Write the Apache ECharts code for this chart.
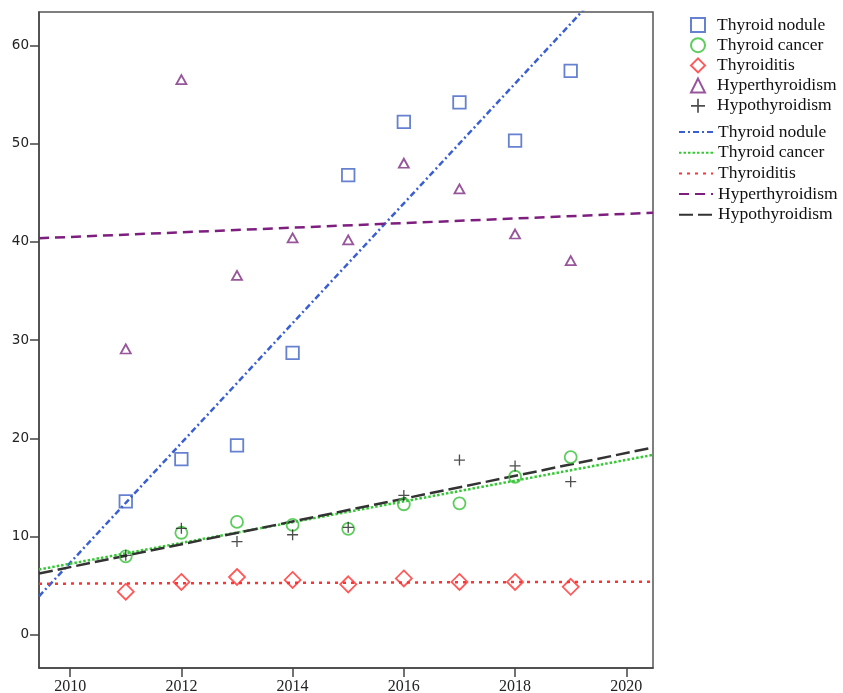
<!DOCTYPE html>
<html>
<head>
<meta charset="utf-8">
<script src="https://cdn.jsdelivr.net/npm/echarts@6/dist/echarts.min.js"></script>
<style>html,body{margin:0;padding:0;background:#fff}#c{width:843px;height:693px}</style>
</head>
<body>
<div id="c"></div>
<script>
var years = [2011, 2012, 2013, 2014, 2015, 2016, 2017, 2018, 2019];
var thyroidNodule = [13.6, 17.9, 19.3, 28.7, 46.8, 52.2, 54.2, 50.3, 57.4];
var thyroidCancer = [8.0, 10.4, 11.5, 11.2, 10.8, 13.3, 13.4, 16.1, 18.1];
var thyroiditis = [4.4, 5.4, 5.9, 5.6, 5.15, 5.75, 5.4, 5.4, 4.9];
var hyperthyroidism = [29.1, 56.5, 36.6, 40.4, 40.2, 48.0, 45.4, 40.8, 38.1];
var hypothyroidism = [8.1, 10.85, 9.5, 10.2, 10.95, 14.2, 17.8, 17.2, 15.6];
var xTicks = [2010, 2012, 2014, 2016, 2018, 2020];
var yTicks = [0, 10, 20, 30, 40, 50, 60];
var xRange = [2009.44, 2020.48];
var yRange = [-3.36, 63.39];

var names = ['Thyroid nodule', 'Thyroid cancer', 'Thyroiditis', 'Hyperthyroidism', 'Hypothyroidism'];
var values = [thyroidNodule, thyroidCancer, thyroiditis, hyperthyroidism, hypothyroidism];
var colors = ['#3f62c4', '#35c035', '#ff3030', '#7d2a82', '#222222'];
var lineColors = ['#3a5fd0', '#33c933', '#ff3333', '#7e1f80', '#333333'];
var symbols = ['rect', 'circle', 'diamond', 'triangle',
  'path://M4.4,0h1.2v4.4h4.4v1.2h-4.4v4.4h-1.2v-4.4h-4.4v-1.2h4.4z'];
var symbolSizes = [12.5, 12, 16, [10, 9], 11];
var dashes = [[6, 3, 2, 3], [2.5, 2], [3, 5], [10, 6], [14, 5]];

function fit(ys) {
  var n = years.length, mx = 0, my = 0;
  for (var i = 0; i < n; i++) { mx += years[i]; my += ys[i]; }
  mx /= n; my /= n;
  var sxy = 0, sxx = 0;
  for (var j = 0; j < n; j++) { sxy += (years[j] - mx) * (ys[j] - my); sxx += (years[j] - mx) * (years[j] - mx); }
  var b = sxy / sxx, a = my - b * mx;
  return [[xRange[0], a + b * xRange[0]], [xRange[1], a + b * xRange[1]]];
}

var series = [];
names.forEach(function (nm, k) {
  var isPlus = k === 4;
  series.push({
    name: nm, type: 'scatter',
    data: years.map(function (y, i) { return [y, values[k][i]]; }),
    symbol: symbols[k], symbolSize: symbolSizes[k],
    itemStyle: isPlus ? { color: colors[k], borderWidth: 0 } :
      { color: 'rgba(255,255,255,0)', borderColor: colors[k], borderWidth: 1.8 },
    z: 3
  });
});
names.forEach(function (nm, k) {
  series.push({
    name: 'fit:' + nm, type: 'line', data: fit(values[k]),
    symbol: 'none', clip: true,
    lineStyle: { color: lineColors[k], width: 2.5, type: dashes[k] },
    itemStyle: { color: lineColors[k] },
    z: 2
  });
});

var legendText = { fontFamily: 'Liberation Serif', fontSize: 17.5, lineHeight: 20, color: '#111' };

var chart = echarts.init(document.getElementById('c'));
chart.setOption({
  animation: false,
  backgroundColor: '#fff',
  grid: { left: 39, right: 190, top: 12, bottom: 25, show: true, borderColor: '#555', borderWidth: 1.5,
    containLabel: false, outerBoundsMode: 'none' },
  xAxis: {
    type: 'value', min: xRange[0], max: xRange[1],
    axisLine: { show: true, onZero: false, lineStyle: { color: '#444', width: 1.5 } },
    axisTick: { show: true, length: 9, customValues: xTicks, lineStyle: { color: '#444', width: 1.5 } },
    axisLabel: { customValues: xTicks, color: '#222', fontFamily: 'Liberation Serif', fontSize: 16, margin: 11,
      formatter: function (v) { return String(Math.round(v)); } },
    splitLine: { show: false }
  },
  yAxis: {
    type: 'value', min: yRange[0], max: yRange[1],
    axisLine: { show: true, onZero: false, lineStyle: { color: '#444', width: 1.5 } },
    axisTick: { show: true, length: 9, customValues: yTicks, lineStyle: { color: '#444', width: 1.5 } },
    axisLabel: { customValues: yTicks, color: '#222', fontFamily: 'DejaVu Sans', fontSize: 13.5, margin: 10,
      formatter: function (v) { return String(Math.round(v)); } },
    splitLine: { show: false }
  },
  legend: [{
    data: names,
    orient: 'vertical', left: 690, top: 15, padding: 0,
    itemWidth: 14, itemHeight: 14, itemGap: 0.2,
    textStyle: Object.assign({ padding: [0, 0, 0, 7] }, legendText)
  }, {
    data: names.map(function (n) { return 'fit:' + n; }), orient: 'vertical', left: 678, top: 122, padding: 0,
    itemWidth: 34, itemHeight: 14, itemGap: 0.7,
    itemStyle: { opacity: 0 },
    formatter: function (n) { return n.replace('fit:', ''); },
    textStyle: legendText
  }],
  series: series
});
</script>
</body>
</html>
